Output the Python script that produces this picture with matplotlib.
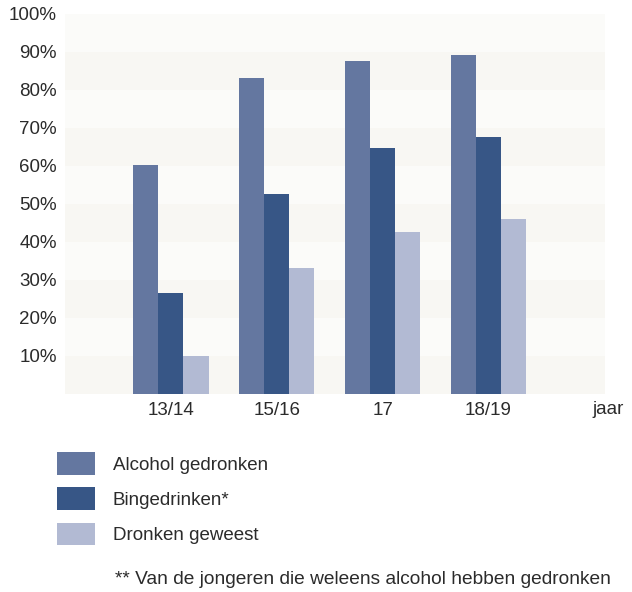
import matplotlib.pyplot as plt
import numpy as np

plt.rcParams['font.family'] = ['Liberation Sans', 'DejaVu Sans']

groepen = ["13/14", "15/16", "17", "18/19"]
alcohol = [60, 83, 87.5, 89]
binge = [26.5, 52.5, 64.5, 67.5]
dronken = [10, 33, 42.5, 46]

series = ["Alcohol gedronken", "Bingedrinken*", "Dronken geweest"]
kleuren = ["#6477a0", "#375686", "#b2bad3"]
yticks = [10, 20, 30, 40, 50, 60, 70, 80, 90, 100]

fs = 13.5
tekst = "#2b2b2b"

fig = plt.figure(figsize=(6.32, 5.92), dpi=100)
ax = fig.add_axes([65/632, 1-393.5/592, 540/632, 380/592])

# achtergrond banden
for i in range(10):
    ax.axhspan(i*10, i*10+10, color="#f8f7f3" if i % 2 == 0 else "#fbfbf9", lw=0, zorder=0)

x = np.arange(1, len(groepen)+1)
w = 0.237
handles = []
for k, vals in enumerate([alcohol, binge, dronken]):
    b = ax.bar(x + (k-1)*w, vals, w, color=kleuren[k], label=series[k], zorder=2)
    handles.append(b)

ax.set_xlim(0, 5.1)
ax.set_ylim(0, 100)
ax.set_xticks(x)
ax.set_xticklabels(groepen)
ax.set_yticks(yticks)
ax.set_yticklabels([str(t) + "%" for t in yticks])
ax.tick_params(length=0, labelsize=fs, colors=tekst)
ax.tick_params(axis="x", pad=6)
ax.tick_params(axis="y", pad=6)
for s in ax.spines.values():
    s.set_visible(False)
ax.text(592/632, 1-410/592, "jaar", transform=fig.transFigure, ha="left", va="center",
        fontsize=fs, color=tekst)

fig.legend(handles=handles, labels=series, loc="upper left",
           bbox_to_anchor=(57/632, 1-452/592), frameon=False, fontsize=fs,
           handlelength=2.03, handleheight=1.5, handletextpad=0.94,
           labelspacing=0.66, borderpad=0, borderaxespad=0, labelcolor=tekst)

fig.text(115/632, 1-580/592, "** Van de jongeren die weleens alcohol hebben gedronken",
         fontsize=13.8, color=tekst, va="center", ha="left")

fig.savefig("out.png", dpi=100)
